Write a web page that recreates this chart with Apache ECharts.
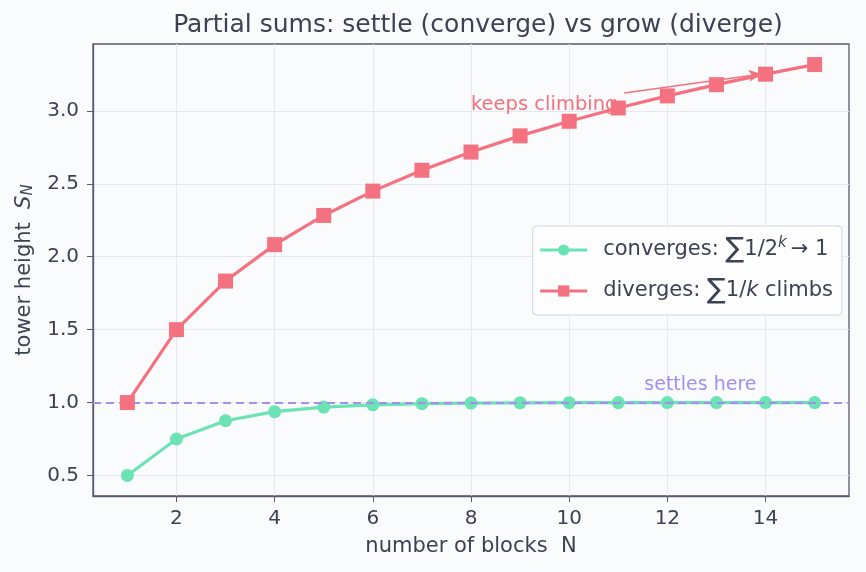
<!DOCTYPE html>
<html>
<head>
<meta charset="utf-8">
<script src="https://cdn.jsdelivr.net/npm/echarts@6/dist/echarts.min.js"></script>
<style>
  html, body { margin: 0; padding: 0; background: #fafbfd; }
  #container { width: 866px; height: 572px; }
</style>
</head>
<body>
<div id="container"></div>
<script>
// blocks N = 1..15
const blocks = [1, 2, 3, 4, 5, 6, 7, 8, 9, 10, 11, 12, 13, 14, 15]
const convergeVals = [0.5, 0.75, 0.875, 0.9375, 0.969, 0.984, 0.992, 0.996, 0.998, 0.999, 1.0, 1.0, 1.0, 1.0, 1.0]
const divergeVals = [1.0, 1.5, 1.833, 2.083, 2.283, 2.45, 2.593, 2.718, 2.829, 2.929, 3.020, 3.103, 3.180, 3.252, 3.318]
const xTicks = [2, 4, 6, 8, 10, 12, 14]
const yTicks = [0.5, 1.0, 1.5, 2.0, 2.5, 3.0]

// annotation anchors (data space)
const climbText = [8, 3.04]
const climbArrow = [[11.12, 3.123], [13.92, 3.253]]
const settleText = [11.53, 1.12]

const textColor = '#3b4252'
const axisColor = '#565b6b'
const green = '#6ce3b5'
const pink = '#f4727f'
const purple = '#a48ef0'

const myChart = echarts.init(document.getElementById('container'))

myChart.setOption({
  backgroundColor: '#fafbfd',
  textStyle: { fontFamily: 'DejaVu Sans', color: textColor },
  title: {
    text: 'Partial sums: settle (converge) vs grow (diverge)',
    left: 473,
    textAlign: 'center',
    top: 8,
    textStyle: { fontFamily: 'DejaVu Sans', fontSize: 25, fontWeight: 'normal', color: textColor }
  },
  grid: {
    left: 93,
    right: 17,
    top: 44,
    bottom: 76,
    show: true,
    borderColor: axisColor,
    borderWidth: 1.3,
    backgroundColor: 'transparent'
  },
  legend: {
    right: 24,
    top: 226,
    orient: 'vertical',
    padding: [10, 9, 10, 6],
    itemGap: 13,
    itemWidth: 47,
    itemHeight: 14,
    backgroundColor: '#fdfdfe',
    borderColor: '#d3d5da',
    borderWidth: 1,
    borderRadius: 4,
    lineStyle: { width: 3 },
    formatter: function (name) {
      if (name === 'converges') {
        return '{t|converges: }{s|∑}{t|1/2}{sup|k}{t|→ 1}'
      }
      return '{t|diverges: }{s|∑}{t|1/}{it|k}{t| climbs}'
    },
    textStyle: {
      fontFamily: 'DejaVu Sans',
      fontSize: 21,
      color: textColor,
      padding: [0, 0, 0, 11],
      rich: {
        t: { fontSize: 21, color: textColor, fontFamily: 'DejaVu Sans' },
        s: { fontSize: 28, color: textColor, fontFamily: 'DejaVu Sans' },
        sup: { fontSize: 15, color: textColor, fontFamily: 'DejaVu Sans', fontStyle: 'italic', verticalAlign: 'top', padding: [0, 4, 12, 0] },
        it: { fontSize: 21, color: textColor, fontFamily: 'DejaVu Sans', fontStyle: 'italic' }
      }
    },
    data: ['converges', 'diverges']
  },
  xAxis: {
    type: 'value',
    min: 0.3,
    max: 15.7,
    name: 'number of blocks  N',
    nameLocation: 'middle',
    nameGap: 40,
    nameTextStyle: { fontSize: 21, color: textColor },
    axisLine: { show: true, lineStyle: { color: axisColor, width: 1.3 } },
    axisTick: { show: true, customValues: xTicks, length: 6, lineStyle: { color: axisColor } },
    axisLabel: { customValues: xTicks, fontSize: 20, color: textColor, margin: 13 },
    splitLine: { show: true, lineStyle: { color: '#e6e8ee', width: 1 } }
  },
  yAxis: {
    type: 'value',
    min: 0.359,
    max: 3.459,
    name: 'tower height  {i|S}{sub|N}',
    nameLocation: 'middle',
    nameGap: 57,
    nameRotate: 90,
    nameTextStyle: {
      fontSize: 21,
      color: textColor,
      rich: {
        i: { fontSize: 21, fontStyle: 'italic', color: textColor, fontFamily: 'DejaVu Sans' },
        sub: { fontSize: 15, fontStyle: 'italic', color: textColor, fontFamily: 'DejaVu Sans', verticalAlign: 'bottom', padding: [8, 0, 0, 0] }
      }
    },
    axisLine: { show: true, lineStyle: { color: axisColor, width: 1.3 } },
    axisTick: { show: true, customValues: yTicks, length: 6, lineStyle: { color: axisColor } },
    axisLabel: {
      customValues: yTicks,
      fontSize: 20,
      color: textColor,
      margin: 14,
      formatter: function (v) { return v.toFixed(1) }
    },
    splitLine: { show: true, lineStyle: { color: '#e6e8ee', width: 1 } }
  },
  series: [
    {
      name: 'converges',
      type: 'line',
      data: blocks.map((b, i) => [b, convergeVals[i]]),
      symbol: 'circle',
      symbolSize: 13,
      color: green,
      lineStyle: { width: 3.2, color: green },
      itemStyle: { color: green },
      z: 3,
      markLine: {
        silent: true,
        symbol: ['none', 'none'],
        label: { show: false },
        lineStyle: { color: purple, type: [8, 5], width: 2.2 },
        data: [{ yAxis: 1 }],
        z: 4
      },
      markPoint: {
        symbol: 'circle',
        symbolSize: 0,
        silent: true,
        label: {
          show: true,
          position: 'right',
          distance: 0,
          formatter: 'settles here',
          color: purple,
          fontSize: 19,
          fontFamily: 'DejaVu Sans'
        },
        data: [{ coord: settleText }]
      }
    },
    {
      name: 'diverges',
      type: 'line',
      data: blocks.map((b, i) => [b, divergeVals[i]]),
      symbol: 'rect',
      symbolSize: 15,
      color: pink,
      lineStyle: { width: 3.2, color: pink },
      itemStyle: { color: pink },
      z: 5,
      markLine: {
        silent: true,
        symbol: ['none', 'arrow'],
        symbolSize: [9, 13],
        label: { show: false },
        lineStyle: { color: pink, type: 'solid', width: 1.4 },
        data: [[{ coord: climbArrow[0] }, { coord: climbArrow[1] }]]
      },
      markPoint: {
        symbol: 'circle',
        symbolSize: 0,
        silent: true,
        label: {
          show: true,
          position: 'right',
          distance: 0,
          formatter: 'keeps climbing',
          color: pink,
          fontSize: 19.5,
          fontFamily: 'DejaVu Sans'
        },
        data: [{ coord: climbText }]
      }
    }
  ]
})
</script>
</body>
</html>
